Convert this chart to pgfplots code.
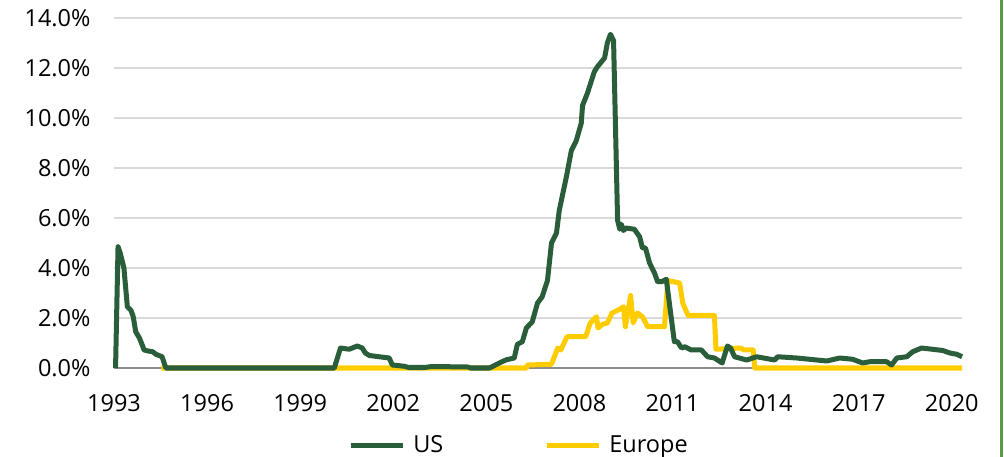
\documentclass[border=0pt]{standalone}
\usepackage{fontspec}
\setmainfont{Open Sans}
\usepackage{pgfplots}
\pgfplotsset{compat=1.18}
\definecolor{usgreen}{HTML}{2A5E3A}
\definecolor{euyellow}{HTML}{FFCC00}
\definecolor{gridgray}{HTML}{D9D9D9}
\definecolor{axgray}{HTML}{8C8C8C}
\definecolor{framegreen}{HTML}{5A9A4A}
\begin{document}
\begin{tikzpicture}
\path[use as bounding box] (0,0) rectangle (1004bp,457bp);
\begin{axis}[
  at={(114bp,89bp)}, anchor=south west,
  scale only axis, width=848bp, height=350bp,
  xmin=1993, xmax=2020.33, ymin=0, ymax=14,
  clip=false,
  axis y line*=left,
  axis x line*=bottom,
  y axis line style={draw=none},
  x axis line style={draw=axgray, line width=1.5bp, -},
  xtick={1993,1996,1999,2002,2005,2008,2011,2014,2017,2020},
  xticklabels={1993,1996,1999,2002,2005,2008,2011,2014,2017,2020},
  ytick={0,2,4,6,8,10,12,14},
  yticklabels={0.0\%,2.0\%,4.0\%,6.0\%,8.0\%,10.0\%,12.0\%,14.0\%},
  ymajorgrids, grid style={draw=gridgray, line width=1.5bp},
  major tick length=0pt,
  tick label style={font=\fontsize{23.5bp}{28bp}\selectfont, text=black},
  yticklabel style={anchor=east, xshift=-20bp},
  xticklabel style={anchor=north, yshift=-23bp},
  legend columns=2,
  legend style={draw=none, fill=none, at={(0.4776,-0.22)}, anchor=center,
    font=\fontsize{23.5bp}{28bp}\selectfont,
    /tikz/every odd column/.append style={column sep=6bp},
    /tikz/every even column/.append style={column sep=99bp}},
  legend image code/.code={\draw[#1, line width=5bp] (0bp,0bp) -- (52bp,0bp);},
]
\addlegendimage{usgreen}
\addlegendentry{US}
\addlegendimage{euyellow}
\addlegendentry{Europe}
\addplot[euyellow, line width=5bp, line join=round, forget plot] coordinates {
(1994.53,0) (2006.3,0) (2006.32,0.12) (2007.1,0.15) (2007.3,0.8) (2007.4,0.72)
(2007.6,1.25) (2008.2,1.25) (2008.35,1.8) (2008.55,2.05) (2008.6,1.6) (2008.75,1.75)
(2008.9,1.8) (2009.05,2.2) (2009.3,2.35) (2009.42,2.45) (2009.48,1.65) (2009.65,2.9)
(2009.73,1.8) (2009.87,2.2) (2010.03,2.05) (2010.2,1.65) (2010.74,1.65) (2010.85,3.5)
(2011.23,3.4) (2011.33,2.6) (2011.5,2.1) (2012.35,2.1) (2012.4,0.75) (2013.2,0.8)
(2013.3,0.72) (2013.6,0.72) (2013.65,0) (2020.33,0)
};
\addplot[usgreen, line width=5bp, line join=round, forget plot] coordinates {
(1993.05,0) (1993.13,4.85) (1993.2,4.6) (1993.32,4.0) (1993.43,2.45) (1993.55,2.3)
(1993.62,2.05) (1993.7,1.45) (1993.82,1.2) (1993.9,0.95) (1993.97,0.72) (1994.1,0.68)
(1994.25,0.65) (1994.35,0.55) (1994.55,0.45) (1994.67,0) (2000.1,0) (2000.3,0.8)
(2000.58,0.75) (2000.84,0.88) (2001.0,0.8) (2001.1,0.6) (2001.23,0.5) (2001.87,0.4)
(2001.97,0.12) (2002.35,0.07) (2002.5,0.02) (2003.0,0.02) (2003.26,0.06) (2004.4,0.04)
(2004.5,0) (2005.1,0) (2005.5,0.25) (2005.65,0.33) (2005.9,0.4) (2006.0,0.95)
(2006.16,1.05) (2006.29,1.6) (2006.48,1.85) (2006.65,2.6) (2006.8,2.85) (2006.97,3.5)
(2007.1,5.0) (2007.26,5.4) (2007.35,6.3) (2007.58,7.65) (2007.74,8.7) (2007.9,9.1)
(2008.06,9.8) (2008.1,10.5) (2008.26,11.0) (2008.48,11.85) (2008.58,12.05) (2008.81,12.4)
(2008.9,13.0) (2009.0,13.35) (2009.1,13.1) (2009.23,5.9) (2009.3,5.55) (2009.35,5.75)
(2009.42,5.5) (2009.5,5.6) (2009.77,5.55) (2009.94,5.25) (2010.03,4.8) (2010.13,4.8)
(2010.26,4.2) (2010.42,3.8) (2010.52,3.45) (2010.65,3.45) (2010.8,3.55) (2010.97,1.9)
(2011.06,1.05) (2011.16,1.05) (2011.29,0.8) (2011.4,0.85) (2011.6,0.72) (2011.93,0.72)
(2012.13,0.45) (2012.35,0.4) (2012.6,0.2) (2012.77,0.88) (2012.87,0.8) (2013.0,0.45)
(2013.39,0.32) (2013.71,0.45) (2014.29,0.32) (2014.39,0.45) (2015.0,0.4) (2015.97,0.28)
(2016.39,0.4) (2016.8,0.35) (2017.13,0.2) (2017.35,0.25) (2017.9,0.25) (2018.06,0.12)
(2018.23,0.4) (2018.55,0.45) (2018.74,0.65) (2019.03,0.8) (2019.71,0.7) (2019.94,0.6)
(2020.16,0.55) (2020.33,0.45)
};
\end{axis}
\draw[framegreen, line width=3bp] (1001.5bp,0bp) -- (1001.5bp,457bp);
\end{tikzpicture}
\end{document}
